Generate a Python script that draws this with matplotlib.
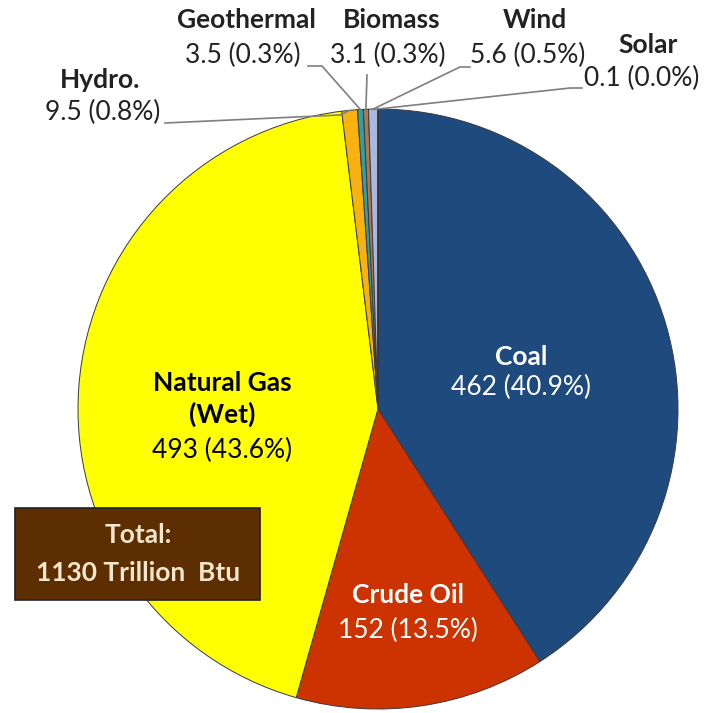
import numpy as np
import matplotlib.pyplot as plt
from matplotlib.patches import Rectangle

plt.rcParams['font.family'] = ['Lato', 'DejaVu Sans']

sources = ["Coal", "Crude Oil", "Natural Gas\n(Wet)", "Hydro.", "Geothermal", "Biomass", "Wind", "Solar"]
values = [462, 152, 493, 9.5, 3.5, 3.1, 5.6, 0.1]
shares = ["40.9%", "13.5%", "43.6%", "0.8%", "0.3%", "0.3%", "0.5%", "0.0%"]
colors = ["#1f4a7e", "#cc3300", "#ffff00", "#f9b10f", "#2f9fa8", "#b07850", "#a8b8e0", "#e0c0a0"]
total_label = ["Total:", "1130 Trillion  Btu"]

fig = plt.figure(figsize=(7.15, 7.13), dpi=100)
ax = fig.add_axes([0, 0, 1, 1])

H = 713
cx, cy, r = 378, H - 409, 300
wedges, _ = ax.pie(values, colors=colors, startangle=90, counterclock=False,
                   center=(cx, cy), radius=r, frame=True,
                   wedgeprops=dict(edgecolor="#3a3a3a", linewidth=0.7))
ax.set_xlim(0, 715)
ax.set_ylim(0, 713)
ax.set_aspect("equal")
ax.axis("off")

def val_text(i):
    v = values[i]
    s = f"{v:g}" if v >= 100 else f"{v:.1f}"
    return f"{s} ({shares[i]})"

fs = 19
# big slices, labels inside (one line per text)
inside = {0: (521, [357], 387), 1: (408, [595], 630), 2: (222, [383, 414], 450)}
for i, (x, ynames, yval) in inside.items():
    col = "black" if i == 2 else "white"
    for line, yn in zip(sources[i].split("\n"), ynames):
        ax.text(x, H - yn, line, ha="center", va="center", fontsize=fs,
                fontweight="bold", color=col)
    ax.text(x, H - yval, val_text(i), ha="center", va="center", fontsize=fs, color=col)

# small slices, labels outside with leader lines
outside = {
    3: ((100, 80), (103, 112), [(165, 123), (340, 115)]),
    4: ((246, 20), (243, 55), [(308, 66), (322, 66)]),
    5: ((392, 20), (388, 55), [(367, 75)]),
    6: ((535, 20), (528, 55), [(470, 67), (460, 67)]),
    7: ((648, 45), (642, 78), [(582, 88), (570, 88)]),
}
for i, (pn, pv, pts) in outside.items():
    ax.text(pn[0], H - pn[1], sources[i], ha="center", va="center", fontsize=fs,
            fontweight="bold", color="#222222")
    ax.text(pv[0], H - pv[1], val_text(i), ha="center", va="center", fontsize=fs,
            color="#222222")
    w = wedges[i]
    mid = np.deg2rad((w.theta1 + w.theta2) / 2)
    ex, ey = cx + r * np.cos(mid), cy + r * np.sin(mid)
    xs = [p[0] for p in pts] + [ex]
    ys = [H - p[1] for p in pts] + [ey]
    ax.plot(xs, ys, color="#7f7f7f", lw=1.2, zorder=5)

ax.add_patch(Rectangle((15, H - 600), 245, 92, facecolor="#5c2e02",
                       edgecolor="#222222", lw=1.2, zorder=6))
for line, yt in zip(total_label, [535, 573]):
    ax.text(138, H - yt, line, ha="center", va="center", fontsize=fs,
            fontweight="bold", color="#f3e6cc", zorder=7)

fig.savefig("out.png", dpi=100)
